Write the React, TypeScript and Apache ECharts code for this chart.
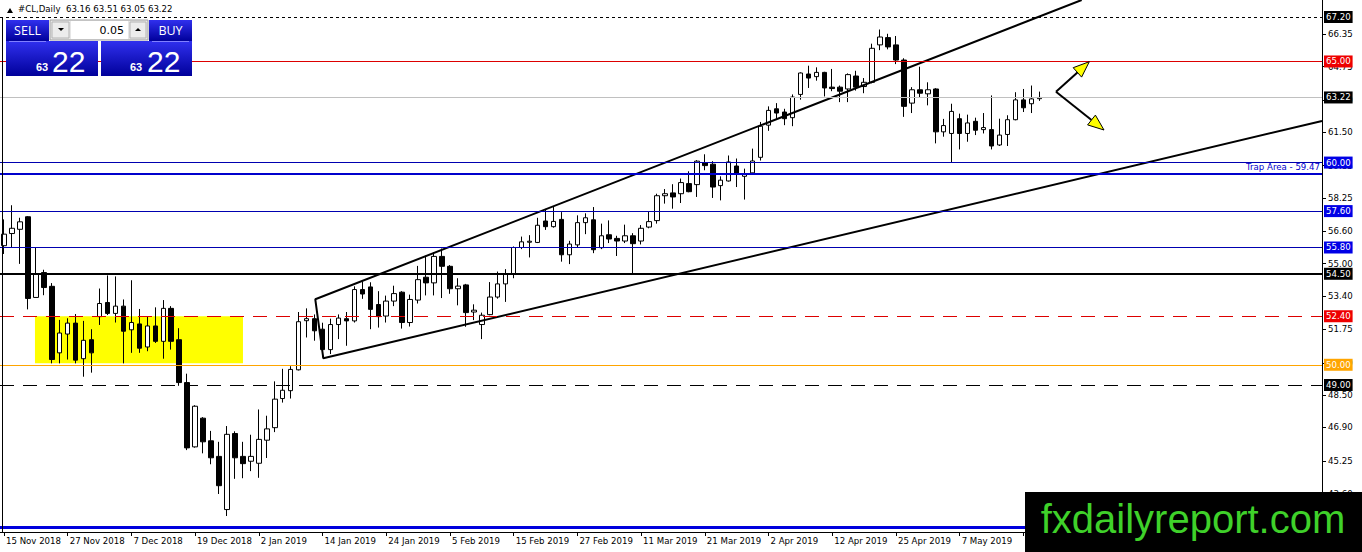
import React, { useEffect, useRef } from 'react';
import * as echarts from 'echarts';

const dates = [
  '15 Nov 2018','16 Nov 2018','19 Nov 2018','20 Nov 2018','21 Nov 2018','22 Nov 2018','23 Nov 2018','26 Nov 2018','27 Nov 2018','28 Nov 2018','29 Nov 2018','30 Nov 2018',
  '3 Dec 2018','4 Dec 2018','5 Dec 2018','6 Dec 2018','7 Dec 2018','10 Dec 2018','11 Dec 2018','12 Dec 2018','13 Dec 2018','14 Dec 2018',
  '17 Dec 2018','18 Dec 2018','19 Dec 2018','20 Dec 2018','21 Dec 2018','24 Dec 2018','26 Dec 2018','27 Dec 2018','28 Dec 2018','31 Dec 2018',
  '2 Jan 2019','3 Jan 2019','4 Jan 2019','7 Jan 2019','8 Jan 2019','9 Jan 2019','10 Jan 2019','11 Jan 2019','14 Jan 2019','15 Jan 2019','16 Jan 2019','17 Jan 2019','18 Jan 2019',
  '21 Jan 2019','22 Jan 2019','23 Jan 2019','24 Jan 2019','25 Jan 2019','28 Jan 2019','29 Jan 2019','30 Jan 2019','31 Jan 2019',
  '1 Feb 2019','4 Feb 2019','5 Feb 2019','6 Feb 2019','7 Feb 2019','8 Feb 2019','11 Feb 2019','12 Feb 2019','13 Feb 2019','14 Feb 2019','15 Feb 2019',
  '18 Feb 2019','19 Feb 2019','20 Feb 2019','21 Feb 2019','22 Feb 2019','25 Feb 2019','26 Feb 2019','27 Feb 2019','28 Feb 2019',
  '1 Mar 2019','4 Mar 2019','5 Mar 2019','6 Mar 2019','7 Mar 2019','8 Mar 2019','11 Mar 2019','12 Mar 2019','13 Mar 2019','14 Mar 2019','15 Mar 2019',
  '18 Mar 2019','19 Mar 2019','20 Mar 2019','21 Mar 2019','22 Mar 2019','25 Mar 2019','26 Mar 2019','27 Mar 2019','28 Mar 2019','29 Mar 2019',
  '1 Apr 2019','2 Apr 2019','3 Apr 2019','4 Apr 2019','5 Apr 2019','8 Apr 2019','9 Apr 2019','10 Apr 2019','11 Apr 2019','12 Apr 2019',
  '15 Apr 2019','16 Apr 2019','17 Apr 2019','18 Apr 2019','22 Apr 2019','23 Apr 2019','24 Apr 2019','25 Apr 2019','26 Apr 2019','29 Apr 2019','30 Apr 2019',
  '1 May 2019','2 May 2019','3 May 2019','6 May 2019','7 May 2019','8 May 2019','9 May 2019','10 May 2019','13 May 2019','14 May 2019','15 May 2019','16 May 2019','17 May 2019','20 May 2019','21 May 2019'
];

const opens = [
  55.89,56.49,56.70,57.32,53.33,54.56,53.88,50.59,51.52,52.06,50.30,51.24,52.38,53.08,52.54,52.90,51.73,52.02,50.88,51.92,
  51.16,52.79,51.24,49.12,45.94,47.36,46.24,45.47,42.84,46.60,45.47,45.23,45.13,46.27,46.89,48.33,48.72,49.75,52.18,52.28,
  51.76,50.75,51.99,52.28,52.17,53.72,53.85,52.98,52.41,53.15,53.59,52.09,53.20,54.33,54.05,55.36,54.87,53.76,53.95,52.61,
  51.99,52.48,53.35,54.00,54.49,55.80,56.06,56.05,57.11,56.83,57.19,55.44,55.93,57.03,57.17,55.79,56.43,56.25,56.12,56.38,
  56.12,56.81,57.13,58.36,58.50,58.46,58.96,58.91,59.98,59.92,58.86,59.09,59.83,59.32,59.49,60.26,61.85,62.66,62.50,62.22,
  63.37,64.38,64.25,64.46,63.73,63.73,63.64,64.28,63.76,63.97,65.82,66.18,65.82,65.07,62.94,63.60,63.40,63.64,61.52,61.44,
  62.17,61.44,62.04,61.63,61.63,60.87,61.39,62.12,63.10,62.91,63.16
];
const highs = [
  57.19,57.89,57.27,57.35,55.80,54.70,54.04,52.22,52.30,52.51,52.17,51.76,53.77,54.42,54.37,53.23,54.18,52.76,52.38,52.84,
  53.20,52.90,51.81,49.56,48.00,47.41,46.73,46.19,46.97,46.71,46.19,46.54,47.79,47.48,49.18,49.80,49.93,52.61,52.79,52.49,
  52.08,52.28,52.49,52.61,53.88,54.12,54.08,53.64,53.42,53.91,53.64,53.47,54.89,55.39,55.56,55.75,54.93,54.28,54.00,52.99,
  52.58,54.09,54.61,54.73,55.85,56.34,56.41,57.27,57.71,57.85,57.55,56.13,57.39,57.49,57.80,56.98,57.14,56.38,56.93,56.51,
  56.91,57.56,58.46,58.69,58.93,59.21,59.57,60.12,60.41,60.07,59.32,60.35,60.20,59.70,60.69,62.01,62.78,62.94,62.66,63.37,
  64.46,64.79,64.71,64.49,64.63,63.81,64.41,64.54,64.18,65.88,66.58,66.37,66.26,65.16,63.73,64.74,63.97,63.68,62.16,62.91,
  62.42,62.37,62.22,62.45,63.32,62.17,62.34,63.48,63.64,63.81,63.51
];
const lows = [
  55.48,55.80,54.99,52.74,53.33,53.44,50.07,50.07,50.26,50.07,49.41,49.61,51.97,52.46,52.09,50.07,50.59,50.59,50.67,51.08,
  50.30,50.75,48.96,45.78,45.90,45.62,45.08,43.61,42.52,44.36,44.39,44.74,44.41,45.39,46.67,48.13,48.33,49.72,51.35,51.19,
  50.37,50.53,51.27,50.94,52.09,53.26,51.76,51.84,52.09,52.90,51.79,51.89,53.03,53.43,53.43,53.30,53.51,52.94,51.88,52.21,
  51.27,52.45,53.27,53.11,54.28,55.72,55.31,56.02,56.67,56.78,55.10,54.98,55.80,56.46,55.52,55.72,56.02,55.38,56.02,54.50,
  55.95,56.75,56.98,57.97,57.72,58.00,58.53,58.30,59.62,58.25,58.13,59.06,58.79,58.17,59.45,60.10,61.57,62.17,61.85,61.80,
  63.11,63.69,64.05,63.27,63.53,62.99,62.99,63.56,63.43,63.92,65.56,65.60,64.87,62.26,62.45,63.24,62.83,60.95,61.28,60.00,
  60.65,61.03,61.36,61.44,60.65,60.82,60.82,62.09,62.50,62.45,63.05
];
const closes = [
  56.46,56.75,57.07,53.28,54.47,53.82,50.26,51.57,52.06,50.23,51.21,50.59,53.03,52.54,52.90,51.66,52.09,50.82,51.92,51.16,
  52.79,51.16,49.12,45.89,47.95,46.19,45.40,44.02,46.56,45.40,45.11,45.47,46.31,46.83,48.30,48.74,49.77,52.13,52.28,51.68,
  50.75,51.99,52.31,52.17,53.72,53.50,52.74,52.38,53.15,53.52,52.09,53.23,54.21,54.05,55.36,54.87,53.76,53.89,52.58,52.70,
  52.45,53.35,54.00,54.49,55.80,56.08,56.11,56.90,56.83,57.09,55.44,55.97,57.03,57.27,55.69,56.38,56.22,56.12,56.38,55.99,
  56.75,57.08,58.36,58.46,58.30,59.01,58.56,60.07,59.85,58.79,59.13,60.03,59.42,59.45,60.08,61.80,62.58,62.45,62.17,63.24,
  64.43,64.18,64.46,63.69,63.66,63.53,64.35,63.73,63.97,65.65,66.21,65.72,65.07,62.78,63.60,63.43,63.60,61.52,61.83,62.53,
  61.44,61.96,61.60,61.73,60.82,61.36,62.12,63.10,62.71,63.15,63.22
];

const yTicks = [43.6, 45.25, 46.9, 48.5, 50.1, 51.75, 53.4, 55.0, 56.6, 58.25, 59.85, 61.5, 63.1, 64.75, 66.35];

// horizontal levels (prices) and their labels
const levelPrices = [67.2, 65.0, 63.22, 60.0, 59.47, 57.6, 55.8, 54.5, 52.4, 50.0, 49.0, 41.98];
const levelTexts = ['67.20', '65.00', '63.22', '60.00', 'Trap Area - 59.47', '57.60', '55.80', '54.50', '52.40', '50.00', '49.00', ''];

// channel trend lines (bar index, price)
const channelBars = [135.32, 39.09, 40.1, 165.5];
const channelPrices = [68.04, 53.24, 50.32, 62.06];

// yellow zone (bar index range, price range)
const zoneBars = [3.89, 30.01];
const zonePrices = [52.4, 50.08];

const TOTAL_SLOTS = 166;
const LAST_LABEL_INDEX = 120;
const FONT = 'DejaVu Sans';

type LvlStyle = { color: string; width: number; type: any; bg: string | null; kind: 'box' | 'text' | 'none' };
const levelStyles: LvlStyle[] = [
  { color: '#000000', width: 1, type: [3, 3], bg: '#000000', kind: 'box' },
  { color: '#dd0000', width: 1, type: 'solid', bg: '#ee0000', kind: 'box' },
  { color: '#c0c0c0', width: 1, type: 'solid', bg: '#000000', kind: 'box' },
  { color: '#0000b0', width: 1, type: 'solid', bg: '#0000e6', kind: 'box' },
  { color: '#0000cc', width: 2, type: 'solid', bg: null, kind: 'text' },
  { color: '#0000b0', width: 1, type: 'solid', bg: '#0000e6', kind: 'box' },
  { color: '#0000b0', width: 1, type: 'solid', bg: '#0000e6', kind: 'box' },
  { color: '#000000', width: 2, type: 'solid', bg: '#000000', kind: 'box' },
  { color: '#dd0000', width: 1, type: [14, 9], bg: '#ee0000', kind: 'box' },
  { color: '#ffa500', width: 1, type: 'solid', bg: '#ffa500', kind: 'box' },
  { color: '#000000', width: 1, type: [14, 9], bg: '#000000', kind: 'box' },
  { color: '#0000dd', width: 3, type: 'solid', bg: null, kind: 'none' },
];

function blueGrad() {
  return new echarts.graphic.LinearGradient(0, 0, 0, 1, [
    { offset: 0, color: '#3030ee' },
    { offset: 1, color: '#00009a' },
  ]);
}

export default function App() {
  const ref = useRef<HTMLDivElement>(null);

  useEffect(() => {
    document.body.style.margin = '0';
    const chart = echarts.init(ref.current!, undefined, { renderer: 'svg' });

    const cats = dates.concat(new Array(TOTAL_SLOTS - dates.length).fill(''));
    const candleData = dates.map((_, i) => [opens[i], closes[i], lows[i], highs[i]]);
    const channelData = channelBars.map((b, i) => [b, channelPrices[i]]);

    const markLineData = levelPrices.map((p, i) => {
      const s = levelStyles[i];
      const label: any =
        s.kind === 'box'
          ? {
              show: true,
              position: 'end',
              distance: 2,
              formatter: levelTexts[i],
              color: '#ffffff',
              backgroundColor: s.bg,
              padding: [1, 2, 0, 2],
              fontSize: 8.6,
              fontFamily: FONT,
              lineHeight: 11,
            }
          : s.kind === 'text'
          ? {
              show: true,
              position: 'insideEndTop',
              distance: 2,
              formatter: levelTexts[i],
              color: '#0000cc',
              fontSize: 8.6,
              fontFamily: FONT,
            }
          : { show: false };
      return {
        yAxis: p,
        lineStyle: { color: s.color, width: s.width, type: s.type },
        label,
      };
    });

    const ax = 1056, ay = 91.7;
    const graphic: any[] = [
      // left frame
      { type: 'line', shape: { x1: 2.5, y1: 17, x2: 2.5, y2: 532 }, style: { stroke: '#000', lineWidth: 1 }, z: 50 },
      // title
      { type: 'polygon', shape: { points: [[7, 13], [13, 13], [10, 8]] }, style: { fill: '#000' }, z: 100 },
      { type: 'text', x: 18, y: 9, style: { text: '#CL,Daily  63.16 63.51 63.05 63.22', font: `8.6px "${FONT}"`, fill: '#000', verticalAlign: 'middle' }, z: 100 },
      // trade panel
      { type: 'rect', shape: { x: 6, y: 20, width: 43, height: 21 }, style: { fill: blueGrad() }, z: 100 },
      { type: 'rect', shape: { x: 149, y: 20, width: 43, height: 21 }, style: { fill: blueGrad() }, z: 100 },
      { type: 'rect', shape: { x: 6, y: 41, width: 92, height: 35 }, style: { fill: blueGrad() }, z: 100 },
      { type: 'rect', shape: { x: 101, y: 41, width: 91, height: 35 }, style: { fill: blueGrad() }, z: 100 },
      { type: 'line', shape: { x1: 9, y1: 41.5, x2: 46, y2: 41.5 }, style: { stroke: '#8080ff', lineWidth: 1 }, z: 101 },
      { type: 'line', shape: { x1: 152, y1: 41.5, x2: 189, y2: 41.5 }, style: { stroke: '#8080ff', lineWidth: 1 }, z: 101 },
      { type: 'rect', shape: { x: 50, y: 20, width: 98, height: 20 }, style: { fill: '#e6e6e6', stroke: '#a0a0a0', lineWidth: 1 }, z: 100 },
      { type: 'rect', shape: { x: 52, y: 22, width: 17, height: 16 }, style: { fill: '#ececec', stroke: '#b4b4b4', lineWidth: 1 }, z: 101 },
      { type: 'polygon', shape: { points: [[58, 28], [64, 28], [61, 31]] }, style: { fill: '#000' }, z: 102 },
      { type: 'rect', shape: { x: 71, y: 21, width: 57, height: 18 }, style: { fill: '#ffffff' }, z: 101 },
      { type: 'rect', shape: { x: 130, y: 22, width: 16, height: 16 }, style: { fill: '#ececec', stroke: '#b4b4b4', lineWidth: 1 }, z: 101 },
      { type: 'polygon', shape: { points: [[135, 31], [141, 31], [138, 28]] }, style: { fill: '#000' }, z: 102 },
      { type: 'text', x: 124, y: 30, style: { text: '0.05', font: `11px "${FONT}"`, fill: '#000', align: 'right', verticalAlign: 'middle' }, z: 102 },
      { type: 'text', x: 27.5, y: 30.5, style: { text: 'SELL', font: '12.5px "Open Sans"', fill: '#fff', align: 'center', verticalAlign: 'middle' }, z: 102 },
      { type: 'text', x: 170.5, y: 30.5, style: { text: 'BUY', font: '12.5px "Open Sans"', fill: '#fff', align: 'center', verticalAlign: 'middle' }, z: 102 },
      { type: 'text', x: 36, y: 67, style: { text: '63', font: 'bold 11px "Liberation Sans"', fill: '#fff', verticalAlign: 'middle' }, z: 102 },
      { type: 'text', x: 52, y: 61, style: { text: '22', font: '30px "Liberation Sans"', fill: '#fff', verticalAlign: 'middle' }, z: 102 },
      { type: 'text', x: 130, y: 67, style: { text: '63', font: 'bold 11px "Liberation Sans"', fill: '#fff', verticalAlign: 'middle' }, z: 102 },
      { type: 'text', x: 147, y: 61, style: { text: '22', font: '30px "Liberation Sans"', fill: '#fff', verticalAlign: 'middle' }, z: 102 },
      // arrows
      { type: 'polyline', shape: { points: [[ax, ay], [1077.4, 72.4]] }, style: { stroke: '#000', lineWidth: 2 }, z: 100 },
      { type: 'polygon', shape: { points: [[1089.3, 61.7], [1081.6, 77.1], [1073.2, 67.7]] }, style: { fill: '#ffff00', stroke: '#000', lineWidth: 1 }, z: 101 },
      { type: 'polyline', shape: { points: [[ax, ay], [1091.5, 120.0]] }, style: { stroke: '#000', lineWidth: 2 }, z: 100 },
      { type: 'polygon', shape: { points: [[1104, 130], [1087.6, 124.9], [1095.4, 115.1]] }, style: { fill: '#ffff00', stroke: '#000', lineWidth: 1 }, z: 101 },
      // watermark
      { type: 'rect', shape: { x: 1025, y: 492, width: 337, height: 60 }, style: { fill: '#000' }, z: 200 },
      { type: 'text', x: 1193, y: 519, style: { text: 'fxdailyreport.com', font: '40px "Liberation Sans"', fill: '#3fd12a', align: 'center', verticalAlign: 'middle' }, z: 201 },
    ];

    chart.setOption({
      animation: false,
      backgroundColor: '#ffffff',
      grid: { left: 0, top: 0, width: 1322, height: 532, containLabel: false },
      xAxis: [
        {
          type: 'category',
          data: cats,
          boundaryGap: true,
          axisLine: { show: true, onZero: false, lineStyle: { color: '#000', width: 1 } },
          axisTick: { show: true, interval: 7, alignWithLabel: true, length: 4, lineStyle: { color: '#000' } },
          axisLabel: {
            interval: 7,
            align: 'left',
            margin: 4,
            fontSize: 8.6,
            fontFamily: FONT,
            color: '#000',
            padding: [0, 0, 0, 2],
            formatter: (v: string, i: number) => (i <= LAST_LABEL_INDEX ? v : ''),
          },
          splitLine: { show: false },
        },
        { type: 'value', min: -0.5, max: TOTAL_SLOTS - 0.5, show: false, axisLine: { onZero: false } },
      ],
      yAxis: {
        type: 'value',
        position: 'right',
        min: 41.73,
        max: 68.04,
        axisLine: { show: true, onZero: false, lineStyle: { color: '#000', width: 1 } },
        axisTick: { show: true, length: 4, customValues: yTicks, lineStyle: { color: '#000' } },
        axisLabel: {
          customValues: yTicks,
          formatter: (v: number) => v.toFixed(2),
          margin: 6,
          fontSize: 8.6,
          fontFamily: FONT,
          color: '#000',
        },
        splitLine: { show: false },
      },
      series: [
        {
          type: 'candlestick',
          xAxisIndex: 0,
          yAxisIndex: 0,
          data: candleData,
          barWidth: 5,
          z: 2,
          itemStyle: {
            color: '#ffffff',
            color0: '#000000',
            borderColor: '#000000',
            borderColor0: '#000000',
            borderWidth: 1,
          },
        },
        {
          type: 'line',
          xAxisIndex: 1,
          yAxisIndex: 0,
          data: channelData,
          symbol: 'none',
          z: 4,
          lineStyle: { color: '#000', width: 2 },
          markArea: {
            silent: true,
            itemStyle: { color: '#ffff00' },
            data: [[{ coord: [zoneBars[0], zonePrices[0]] }, { coord: [zoneBars[1], zonePrices[1]] }]],
          },
          markLine: {
            silent: true,
            symbol: ['none', 'none'],
            data: markLineData,
          },
        },
      ],
      graphic,
    });

    return () => chart.dispose();
  }, []);

  return <div ref={ref} style={{ position: 'fixed', left: 0, top: 0, width: 1362, height: 552, background: '#fff' }} />;
}
